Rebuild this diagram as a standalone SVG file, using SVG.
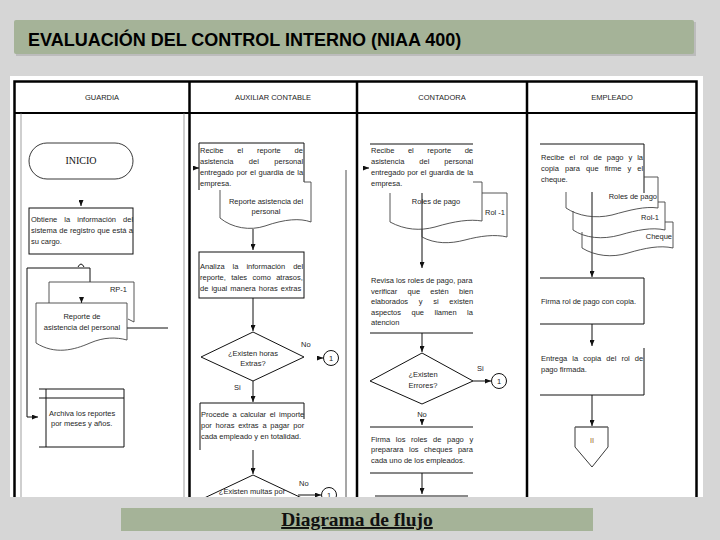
<svg xmlns="http://www.w3.org/2000/svg" width="720" height="540" viewBox="0 0 720 540">
<style>
.t{font-family:"Liberation Sans",Arial,sans-serif;font-size:7.5px;fill:#1e1e1e}
.c{text-anchor:middle}
.e{text-anchor:end}
.ln{fill:none;stroke:#111;stroke-width:1}
.doc{fill:none;stroke:#444;stroke-width:0.9}
.lane{stroke:#000;stroke-width:2.5}
.ar{fill:none;stroke:#111;stroke-width:1;marker-end:url(#ah)}
</style>
<defs>
<marker id="ah" viewBox="0 0 6 5" markerWidth="6" markerHeight="5" refX="6" refY="2.5" orient="auto" markerUnits="userSpaceOnUse"><path d="M0,0 L6,2.5 L0,5 z" fill="#111"/></marker>
</defs>

<g id="page">
<rect x="0" y="0" width="720" height="540" fill="#d6d6d6"/>
<rect x="16" y="22" width="680" height="34" fill="#bcbcbc"/>
<rect x="14" y="20" width="680" height="34" rx="2" fill="#a5b398"/>
<text x="28" y="46" font-family="'Liberation Sans',Arial,sans-serif" font-size="18" font-weight="bold" fill="#000">EVALUACIÓN DEL CONTROL INTERNO (NIAA 400)</text>
<rect x="10" y="76" width="693" height="421" fill="#fff"/>
</g>

<g id="table">
<rect x="14.5" y="81.5" width="682" height="440" fill="none" stroke="#000" stroke-width="2.5"/>
<line x1="14" y1="113" x2="697" y2="113" stroke="#000" stroke-width="1.8"/>
<line class="lane" x1="189.5" y1="81" x2="189.5" y2="497"/>
<line class="lane" x1="357" y1="81" x2="357" y2="497"/>
<line class="lane" x1="527" y1="81" x2="527" y2="497"/>
<line x1="21" y1="113" x2="21" y2="497" stroke="#777" stroke-width="0.7"/>
<line x1="184" y1="113" x2="184" y2="497" stroke="#777" stroke-width="0.7"/>
<text class="t c" x="102" y="100">GUARDIA</text>
<text class="t c" x="273" y="100">AUXILIAR CONTABLE</text>
<text class="t c" x="442" y="100">CONTADORA</text>
<text class="t c" x="612" y="100">EMPLEADO</text>
</g>

<g id="connectors">
<line class="ar" x1="81" y1="200" x2="81" y2="206"/>
<path class="ln" d="M27,417 V268 H90 V282"/>
<path class="ln" d="M78,267 Q81,261 84,267"/>
<line class="ar" x1="81.5" y1="297" x2="81.5" y2="303"/>
<line class="ar" x1="27" y1="417" x2="38" y2="417"/>
<line class="ln" x1="127" y1="328" x2="168" y2="328"/>
<line class="ar" x1="193" y1="168" x2="199" y2="168"/>
<line class="ar" x1="253" y1="229" x2="253" y2="250"/>
<line class="ar" x1="253" y1="298" x2="253" y2="331"/>
<line class="ar" x1="317" y1="358" x2="323" y2="358"/>
<line class="ar" x1="253" y1="381" x2="253" y2="402"/>
<line class="ar" x1="253" y1="450" x2="253" y2="474"/>
<line class="ar" x1="298" y1="495" x2="321" y2="495"/>
<line x1="346" y1="170" x2="346" y2="497" stroke="#222" stroke-width="0.8"/>
<line class="ar" x1="363" y1="168" x2="369" y2="168"/>
<line class="ar" x1="422" y1="193" x2="422" y2="268"/>
<line class="ar" x1="422" y1="333" x2="422" y2="352"/>
<line class="ar" x1="473" y1="381" x2="491" y2="381"/>
<line class="ar" x1="422" y1="419" x2="422" y2="425"/>
<line class="ar" x1="422" y1="473" x2="422" y2="494"/>
<line class="ar" x1="592" y1="192" x2="592" y2="277"/>
<line class="ar" x1="592" y1="324" x2="592" y2="346"/>
<line class="ar" x1="592" y1="395" x2="592" y2="426"/>
</g>

<g id="inicio">
<rect x="29" y="143" width="104" height="36" rx="18" fill="#fff" stroke="#222" stroke-width="0.9"/>
<text x="81" y="164" font-family="'Liberation Serif','Times New Roman',serif" font-size="10" fill="#111" text-anchor="middle">INICIO</text>
</g>

<g id="obtiene">
<rect x="29" y="208" width="104" height="46" fill="#fff" stroke="#111" stroke-width="1"/>
<text class="t" x="31" y="221.5" word-spacing="5">Obtiene la información del</text>
<text class="t" x="31" y="232.5" word-spacing="0.3">sistema de registro que está a</text>
<text class="t" x="31" y="243.5">su cargo.</text>
</g>

<g id="rp1">
<path class="doc" d="M49,303 V282 H134 V322 L128,319"/>
<text class="t e" x="127" y="292">RP-1</text>
</g>

<g id="reporte-guardia">
<path d="M36,303 H127 V340 C116,337 104,337 90,343 C74,350 55,355 36,343 Z" fill="#fff" stroke="#444" stroke-width="0.9"/>
<text class="t c" x="82" y="319">Reporte de</text>
<text class="t c" x="82" y="330">asistencia del personal</text>
</g>

<g id="archiva">
<path class="ln" d="M39,389 H124 V447 H39 M39,398 H124 M46,389 V447"/>
<text class="t" x="49" y="416">Archiva los reportes</text>
<text class="t" x="51" y="426">por meses y años.</text>
</g>

<g id="recibe-aux">
<path class="ln" d="M199,190 V143 H304 V182"/>
<text class="t" x="200" y="153" word-spacing="11.8">Recibe el reporte de</text>
<text class="t" x="200" y="164" word-spacing="13.4">asistencia del personal</text>
<text class="t" x="200" y="175" word-spacing="0.6">entregado por el guardia de la</text>
<text class="t" x="200" y="186">empresa.</text>
</g>

<g id="reporte-aux">
<path class="doc" d="M304,182 H311 V222 C300,218 285,219 265,226 C250,231 232,228 220,218 V190"/>
<text class="t c" x="266" y="204">Reporte asistencia del</text>
<text class="t c" x="266" y="214">personal</text>
</g>

<g id="analiza">
<rect x="199" y="252" width="105" height="46" fill="#fff" stroke="#111" stroke-width="1"/>
<text class="t" x="200" y="269" word-spacing="5.9">Analiza la información del</text>
<text class="t" x="200" y="280" word-spacing="3.3">reporte, tales como atrasos,</text>
<text class="t" x="200" y="290.5" word-spacing="1">de igual manera horas extras</text>
</g>

<g id="horas-extras">
<polygon points="253,332 304,357 253,381 201,357" fill="#fff" stroke="#111" stroke-width="1"/>
<text class="t c" x="253" y="355.5">¿Existen horas</text>
<text class="t c" x="253" y="366">Extras?</text>
<text class="t" x="301" y="347">No</text>
<text class="t" x="234" y="390">Si</text>
</g>

<g id="conector-1a">
<circle cx="331" cy="358" r="7.5" fill="#fff" stroke="#111" stroke-width="1"/>
<text class="t c" x="331" y="361">1</text>
</g>

<g id="procede">
<path class="ln" d="M200,450 V403 H304 V419"/>
<text class="t" x="201" y="417" word-spacing="1.5">Procede a calcular el importe</text>
<text class="t" x="201" y="428" word-spacing="1.7">por horas extras a pagar por</text>
<text class="t" x="201" y="439">cada empleado y en totalidad.</text>
</g>

<g id="multas">
<polygon points="253,475 306,500 253,525 200,500" fill="#fff" stroke="#111" stroke-width="1"/>
<text class="t c" x="252" y="494">¿Existen multas por</text>
<text class="t" x="299" y="486">No</text>
</g>

<g id="conector-1b">
<circle cx="329" cy="495" r="7.5" fill="#fff" stroke="#111" stroke-width="1"/>
<text class="t c" x="329" y="498">1</text>
</g>

<g id="recibe-contadora">
<line class="ln" x1="370" y1="144" x2="473" y2="144"/>
<text class="t" x="371" y="153" word-spacing="11.5">Recibe el reporte de</text>
<text class="t" x="371" y="164" word-spacing="12.9">asistencia del personal</text>
<text class="t" x="371" y="175" word-spacing="0.4">entregado por el guardia de la</text>
<text class="t" x="371" y="186">empresa.</text>
</g>

<g id="roles-contadora">
<path class="doc" d="M473,182 H482 V221 C470,219 455,221 435,227 C420,231 405,230 390,222 V193"/>
<text class="t c" x="436" y="204">Roles de pago</text>
</g>

<g id="rol1-contadora">
<path class="doc" d="M482,193 H507 V237 C495,234 480,236 465,240 C450,244 435,244 422,237 V229"/>
<text class="t c" x="495" y="215">Rol -1</text>
</g>

<g id="revisa">
<line class="ln" x1="370" y1="333" x2="473" y2="333"/>
<text class="t" x="371" y="283">Revisa los roles de pago, para</text>
<text class="t" x="371" y="293.5" word-spacing="8.2">verificar que estén bien</text>
<text class="t" x="371" y="304" word-spacing="8.6">elaborados y si existen</text>
<text class="t" x="371" y="314.5" word-spacing="8.4">aspectos que llamen la</text>
<text class="t" x="371" y="325">atencion</text>
</g>

<g id="errores">
<polygon points="422,353 473,381 422,404 370,381" fill="#fff" stroke="#111" stroke-width="1"/>
<text class="t c" x="423" y="377">¿Existen</text>
<text class="t c" x="423" y="388">Errores?</text>
<text class="t" x="477" y="371">Si</text>
<text class="t c" x="422" y="417">No</text>
</g>

<g id="conector-1c">
<circle cx="499" cy="381" r="7.5" fill="#fff" stroke="#111" stroke-width="1"/>
<text class="t c" x="499" y="384">1</text>
</g>

<g id="firma-roles">
<path class="ln" d="M370,427 H473 M370,473 H473"/>
<text class="t" x="371" y="441.5" word-spacing="3.6">Firma los roles de pago y</text>
<text class="t" x="371" y="452" word-spacing="3.4">preparara los cheques para</text>
<text class="t" x="371" y="462.5">cada uno de los empleados.</text>
</g>

<g id="siguiente-contadora">
<line x1="375" y1="496" x2="468" y2="496" stroke="#8a8a8a" stroke-width="2"/>
</g>

<g id="recibe-empleado">
<path class="ln" d="M540,144 H644 V193"/>
<text class="t" x="541" y="160" word-spacing="2.9">Recibe el rol de pago y la</text>
<text class="t" x="541" y="171" word-spacing="4">copia para que firme y el</text>
<text class="t" x="541" y="182">cheque.</text>
</g>

<g id="roles-empleado">
<path class="doc" d="M644,177 H658 V208 C645,206 630,210 612,215 C595,219 578,216 566,208 V192"/>
<text class="t e" x="657" y="199">Roles de pago</text>
</g>

<g id="rol1-empleado">
<path class="doc" d="M658,202 H665 V230 C652,227 637,230 620,235 C602,240 585,238 573,230 V211"/>
<text class="t e" x="659" y="220">Rol-1</text>
</g>

<g id="cheque-empleado">
<path class="doc" d="M665,222 H673 V248 C660,245 645,248 628,253 C612,258 595,256 582,248 V232"/>
<text class="t e" x="672" y="239">Cheque</text>
</g>

<g id="firma-rol">
<path class="ln" d="M540,278 H644 V324 H540"/>
<text class="t" x="541" y="304">Firma rol de pago con copia.</text>
</g>

<g id="entrega">
<path class="ln" d="M644,348 V395 H540"/>
<text class="t" x="541" y="361" word-spacing="3">Entrega la copia del rol de</text>
<text class="t" x="541" y="372">pago firmada.</text>
</g>

<g id="fuera-pagina">
<path d="M575,427 H608 V447 L592,467 L575,447 Z" fill="#fff" stroke="#222" stroke-width="0.9"/>
<line x1="575" y1="427" x2="608" y2="427" stroke="#777" stroke-width="1.2"/>
<text class="t c" x="592" y="443" fill="#9a5a2a" style="fill:#9a5a2a">II</text>
</g>

<g id="footer">
<rect x="0" y="497" width="720" height="43" fill="#d6d6d6"/>
<rect x="121" y="508" width="472" height="23" fill="#a5b398"/>
<text x="357" y="526" font-family="'Liberation Serif','Times New Roman',serif" font-size="19.5" font-weight="bold" fill="#111" text-anchor="middle" text-decoration="underline">Diagrama de flujo</text>
</g>
</svg>
